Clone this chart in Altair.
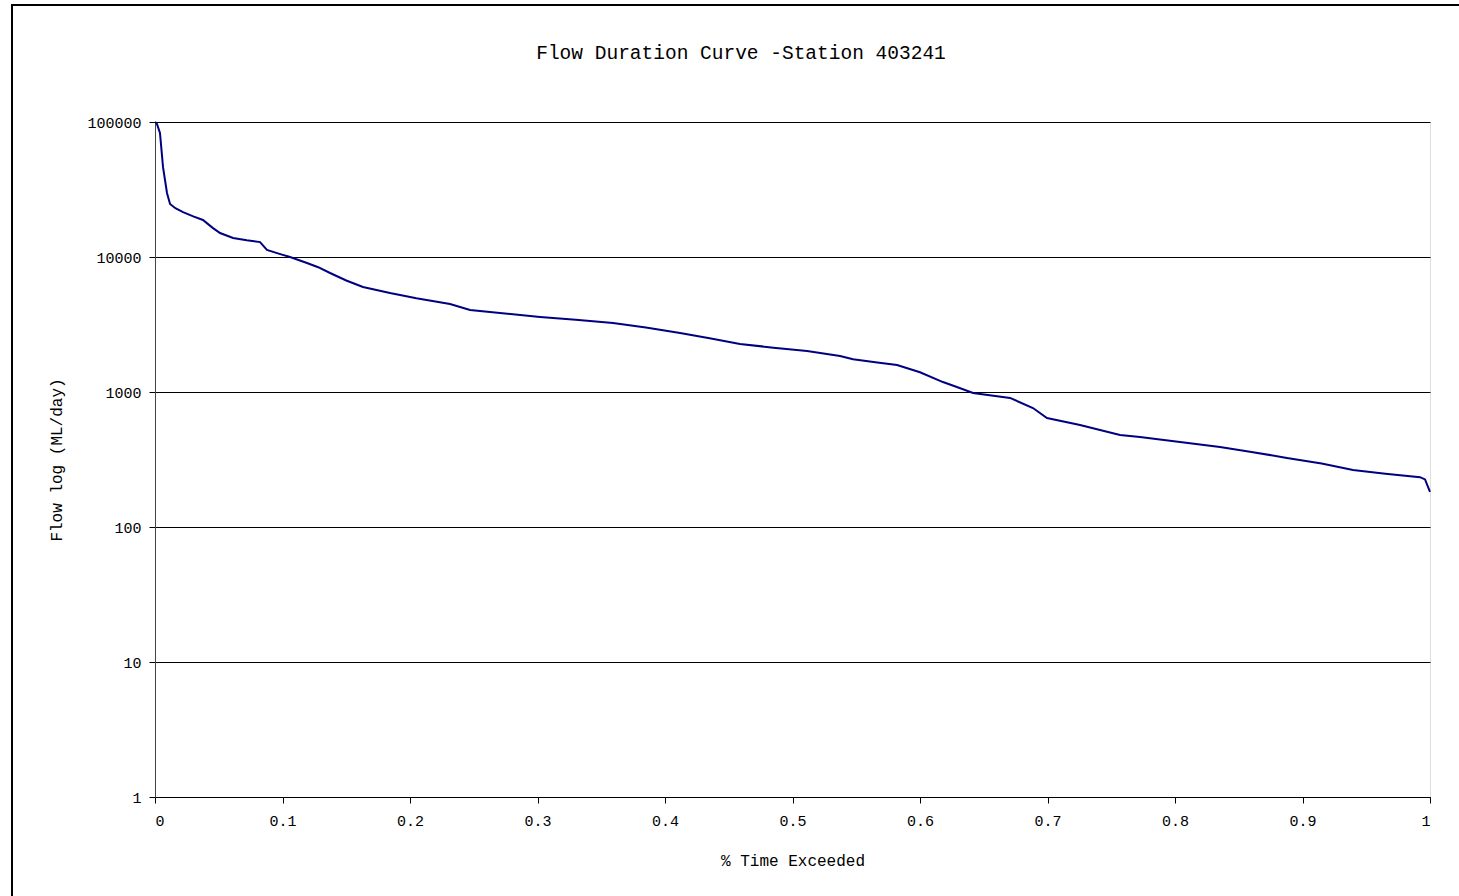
import altair as alt
import pandas as pd

# % time exceeded (fraction) and flow (ML/day)
pct = [0.0, 0.0013, 0.0039, 0.0063, 0.0094, 0.0118, 0.016, 0.022, 0.030, 0.0376,
       0.045, 0.051, 0.0612, 0.072, 0.0824, 0.0878, 0.097, 0.1059, 0.1192, 0.128,
       0.1373, 0.150, 0.1631, 0.1843, 0.205, 0.2314, 0.2471, 0.2627, 0.3020,
       0.330, 0.3592, 0.385, 0.4118, 0.435, 0.4588, 0.485, 0.5114, 0.5373, 0.5475,
       0.565, 0.5820, 0.600, 0.6180, 0.630, 0.6416, 0.6706, 0.6886, 0.6996, 0.7255,
       0.7569, 0.7725, 0.8039, 0.8353, 0.860, 0.8878, 0.915, 0.9396, 0.965, 0.9922,
       0.9961, 1.0]
flow = [100000, 98000, 83000, 46300, 29800, 24700, 23000, 21500, 20000, 18800,
        16500, 15060, 13840, 13300, 12900, 11270, 10600, 10000, 9030, 8400,
        7610, 6700, 5990, 5410, 4950, 4490, 4050, 3910, 3600,
        3430, 3250, 3000, 2740, 2500, 2270, 2130, 2010, 1850, 1750,
        1660, 1585, 1400, 1185, 1080, 984, 904, 761, 641, 570,
        480, 465, 427, 392, 360, 325, 295, 264, 248, 234,
        225, 182]

y_ticks = [1, 10, 100, 1000, 10000, 100000]
x_ticks = [0.0, 0.1, 0.2, 0.3, 0.4, 0.5, 0.6, 0.7, 0.8, 0.9, 1.0]
title_text = ["Flow Duration Curve -Station 403241"]

df = pd.DataFrame({"pct": pct, "flow": flow})

FONT = "Liberation Mono"

line = alt.Chart(df).mark_line(color="#000080", strokeWidth=2).encode(
    x=alt.X("pct:Q",
            scale=alt.Scale(domain=[0, 1], nice=False, zero=False),
            axis=alt.Axis(values=x_ticks, format="~g", title="% Time Exceeded",
                          grid=False, tickSize=6, tickColor="#000000",
                          domainColor="#000000", labelFont=FONT, labelFontSize=15,
                          labelColor="#000000", labelPadding=10,
                          titleFont=FONT, titleFontSize=16, titleFontWeight="normal",
                          titleColor="#000000", titlePadding=24)),
    y=alt.Y("flow:Q",
            scale=alt.Scale(type="log", domain=[1, 100000], nice=False),
            axis=alt.Axis(values=y_ticks, format="d", title="Flow log (ML/day)",
                          grid=True, gridColor="#000000", gridWidth=1,
                          tickSize=6, tickColor="#000000",
                          domainColor="#444444", labelFont=FONT, labelFontSize=15,
                          labelColor="#000000", labelPadding=8,
                          titleFont=FONT, titleFontSize=16, titleFontWeight="normal",
                          titleColor="#000000", titlePadding=22)),
)

border = alt.Chart(pd.DataFrame({"a": [0]})).mark_rect(
    filled=False, stroke="#000000", strokeWidth=2, clip=False
).encode(
    x=alt.value(-143), x2=alt.value(1400),
    y=alt.value(-117), y2=alt.value(900),
)

title = alt.Chart(pd.DataFrame({"t": title_text})).mark_text(
    font=FONT, fontSize=19.5, color="#000000", align="center", baseline="middle",
    clip=False
).encode(
    text="t:N", x=alt.value(586), y=alt.value(-69),
)

chart = alt.layer(border, line, title).properties(
    width=1275, height=675,
    autosize=alt.AutoSizeParams(type="none"),
    padding={"left": 155, "top": 122, "right": 29, "bottom": 99},
).configure_view(stroke="#808080", strokeWidth=2).configure(background="white")

chart.save("out.html", embed_options={"renderer": "svg", "actions": False})
